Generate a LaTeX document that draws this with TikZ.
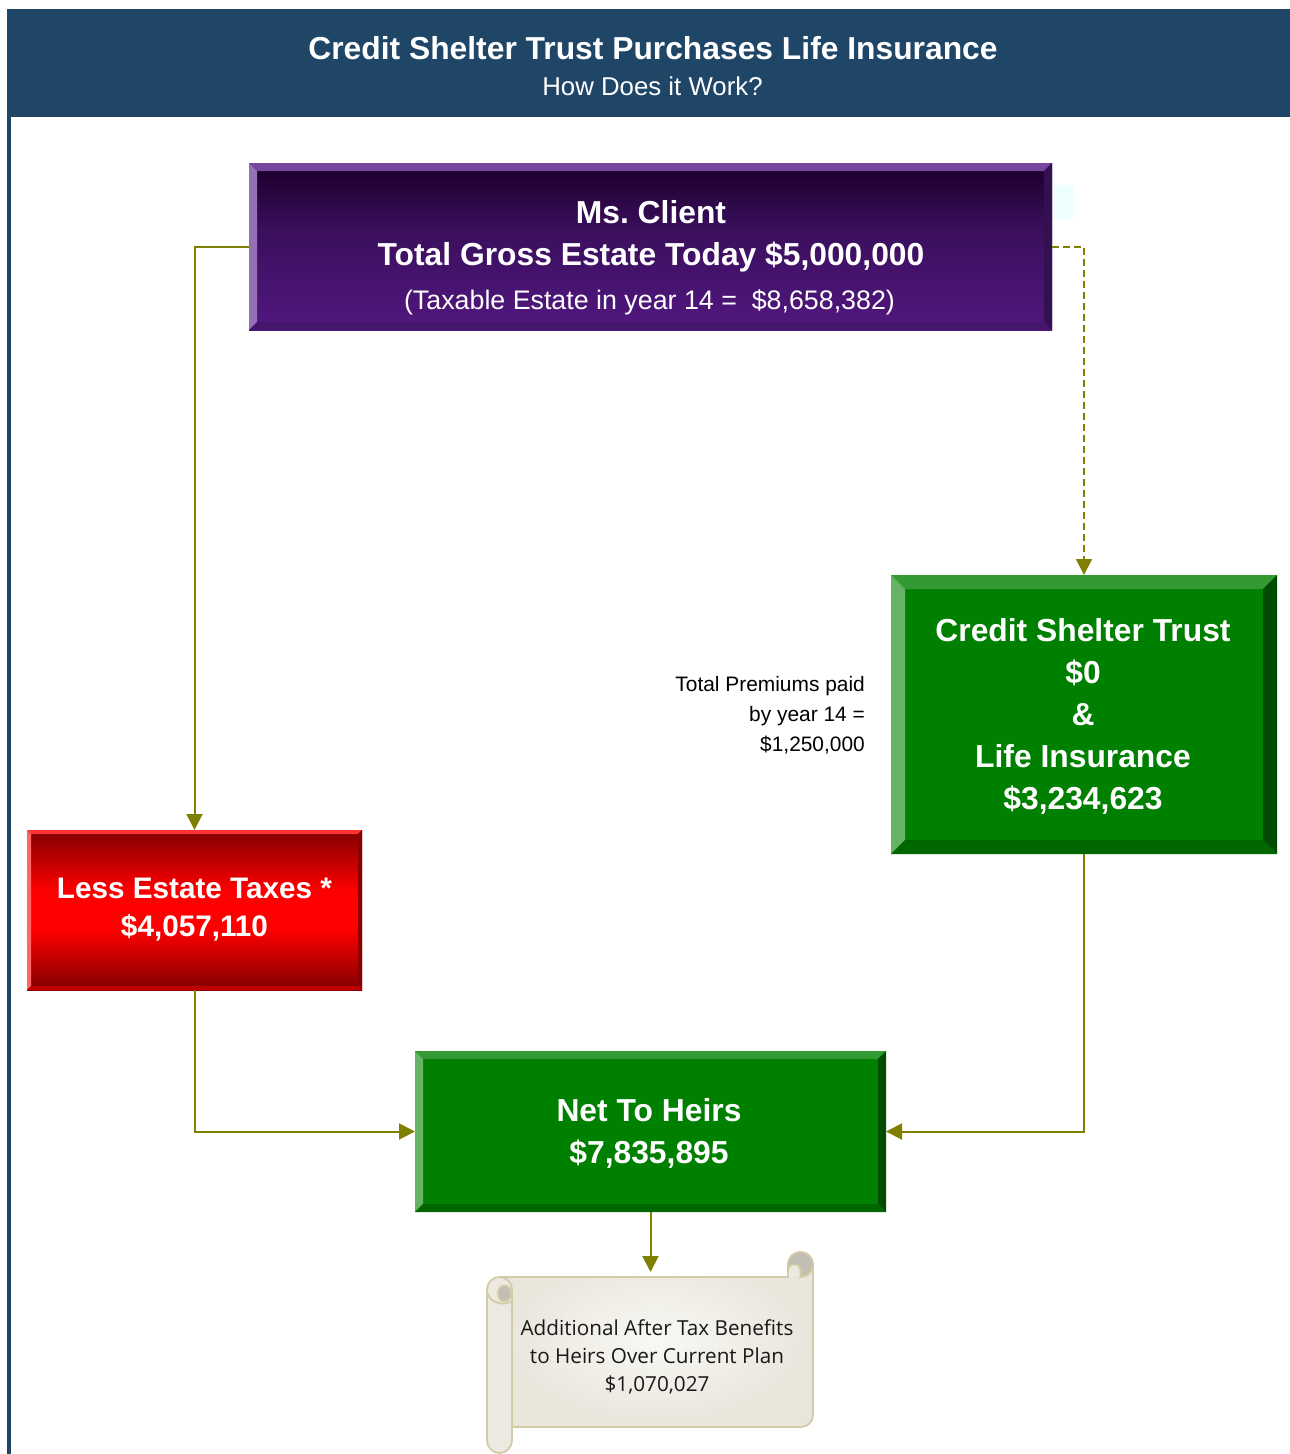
\documentclass[tikz,border=0pt]{standalone}
\usepackage{fontspec}
\setmainfont{Liberation Sans}
\newfontfamily\scrollfont{Open Sans}
\usetikzlibrary{arrows.meta,calc}
\frenchspacing
\definecolor{hdr}{HTML}{1F4567}
\definecolor{olivec}{HTML}{808000}
\definecolor{pTop}{HTML}{77479D}
\definecolor{pLeft}{HTML}{9570B5}
\definecolor{pRight}{HTML}{33104F}
\definecolor{pBot}{HTML}{45166B}
\definecolor{pShadeTop}{HTML}{1F0031}
\definecolor{pShadeMid}{HTML}{3A0F5C}
\definecolor{pShadeBot}{HTML}{521780}
\definecolor{gTop}{HTML}{339933}
\definecolor{gLeft}{HTML}{66B266}
\definecolor{gRight}{HTML}{004C00}
\definecolor{gBot}{HTML}{006600}
\definecolor{gFill}{HTML}{008000}
\definecolor{rTop}{HTML}{FF3333}
\definecolor{rLeft}{HTML}{FF6666}
\definecolor{rRight}{HTML}{8B0000}
\definecolor{rBot}{HTML}{C00000}
\definecolor{rDark}{HTML}{800000}
\definecolor{rBright}{HTML}{FF0000}
\definecolor{scrollEdge}{HTML}{D3CBA8}
\definecolor{scrollIn}{HTML}{F9F8F4}
\definecolor{scrollOut}{HTML}{E8E5DB}
\definecolor{scrollRoll}{HTML}{ECE9E0}
\definecolor{curlGray}{HTML}{C2BEB6}
\definecolor{paleCyan}{HTML}{EEFFFF}
\pgfdeclareverticalshading{redband}{100bp}{color(0bp)=(rDark); color(25bp)=(rDark); color(44bp)=(rBright); color(56bp)=(rBright); color(75bp)=(rDark); color(100bp)=(rDark)}
\pgfdeclareverticalshading{purpleband}{100bp}{color(0bp)=(pShadeBot); color(25bp)=(pShadeBot); color(55bp)=(pShadeMid); color(72bp)=(pShadeTop); color(100bp)=(pShadeTop)}
\newcommand{\bigbold}{\fontsize{31.8}{42}\selectfont\bfseries}
\begin{document}
\begin{tikzpicture}[x=1pt,y=-1pt,
  box/.style={rectangle, inner sep=0pt, outer sep=0pt},
  bevel/.style n args={5}{path picture={
    \fill[#2] (path picture bounding box.north west) -- (path picture bounding box.north east)
      -- ([xshift=-#1pt,yshift=-#1pt]path picture bounding box.north east)
      -- ([xshift=#1pt,yshift=-#1pt]path picture bounding box.north west) -- cycle;
    \fill[#3] (path picture bounding box.north west)
      -- ([xshift=#1pt,yshift=-#1pt]path picture bounding box.north west)
      -- ([xshift=#1pt,yshift=#1pt]path picture bounding box.south west)
      -- (path picture bounding box.south west) -- cycle;
    \fill[#4] (path picture bounding box.north east)
      -- ([xshift=-#1pt,yshift=-#1pt]path picture bounding box.north east)
      -- ([xshift=-#1pt,yshift=#1pt]path picture bounding box.south east)
      -- (path picture bounding box.south east) -- cycle;
    \fill[#5] (path picture bounding box.south west)
      -- ([xshift=#1pt,yshift=#1pt]path picture bounding box.south west)
      -- ([xshift=-#1pt,yshift=#1pt]path picture bounding box.south east)
      -- (path picture bounding box.south east) -- cycle;
  }},
  boxtext/.style={text=white, align=center, font=\bigbold},
  conn/.style={draw=olivec, line width=2pt, -{Triangle[length=16pt,width=16pt]}},
  dashconn/.style={conn, dash pattern=on 7pt off 4pt},
  scrollline/.style={draw=scrollEdge, line width=1.8pt, line join=round}
]
\useasboundingbox (0,0) rectangle (1290,1454);
\fill[white] (0,0) rectangle (1290,1454);

% header and left border
\fill[hdr] (7,9) rectangle (1290,117);
\fill[hdr] (7,117) rectangle (11,1454);
\node[text=white, font=\fontsize{31.8}{38}\selectfont\bfseries] (title) at (653,48) {Credit Shelter Trust Purchases Life Insurance};
\node[text=white, font=\fontsize{25.8}{30}\selectfont] (subtitle) at (652.5,86) {How Does it Work?};

% pale artifact
\fill[paleCyan] (1053,185) rectangle (1073,219);

% Ms. Client box
\node[box, minimum width=803pt, minimum height=167pt, shading=purpleband,
  bevel={8}{pTop}{pLeft}{pRight}{pBot}] (client) at (650.5,246.5) {};
\node[boxtext] (clienttext) at (651,236) {Ms. Client\\Total Gross Estate Today \$5,000,000};
\node[text=white, font=\fontsize{26.8}{32}\selectfont] (taxable) at (649.5,302.5) {(Taxable Estate in year 14 = \ \$8,658,382)};

% Credit Shelter Trust box
\node[box, minimum width=386pt, minimum height=279pt, fill=gFill,
  bevel={14}{gTop}{gLeft}{gRight}{gBot}] (cst) at (1084,714.5) {};
\node[boxtext] (csttext) at (1083,716) {Credit Shelter Trust\\\$0\\\&\\Life Insurance\\\$3,234,623};

% premiums text
\node[align=right, anchor=east, font=\fontsize{20.9}{30}\selectfont, text=black, inner sep=0pt] (premiums) at (865,715.5) {Total Premiums paid\\by year 14 =\\\$1,250,000};

% Less Estate Taxes box
\node[box, minimum width=335pt, minimum height=160pt, shading=redband,
  bevel={4}{rTop}{rLeft}{rRight}{rBot}] (red) at (194.5,910) {};
\node[boxtext, font=\fontsize{29.7}{38}\selectfont\bfseries] (redtext) at (194.5,910) {Less Estate Taxes *\\\$4,057,110};

% Net To Heirs box
\node[box, minimum width=471pt, minimum height=161pt, fill=gFill,
  bevel={8}{gTop}{gLeft}{gRight}{gBot}] (net) at (650.5,1131.5) {};
\node[boxtext] (nettext) at (649,1133.5) {Net To Heirs\\\$7,835,895};

% scroll
\shade[inner color=scrollIn, outer color=scrollOut] (499,1277) -- (788,1277) -- (788,1264.5)
  arc[start angle=180,end angle=360,radius=12.5] -- (813,1415)
  arc[start angle=0,end angle=90,radius=12] -- (499,1427) -- cycle;
\draw[scrollline] (499,1277) -- (788,1277) -- (788,1264.5)
  arc[start angle=180,end angle=360,radius=12.5] -- (813,1415)
  arc[start angle=0,end angle=90,radius=12] -- (499,1427);
\filldraw[scrollline, fill=curlGray] (800.5,1264.5) circle[radius=12.5];
\filldraw[scrollline, fill=scrollRoll] (788,1277) -- (788,1270.5)
  arc[start angle=180,end angle=360,radius=6.25] -- (800.5,1277);
\filldraw[scrollline, fill=scrollRoll] (487,1289.5) arc[start angle=180,end angle=360,radius=12.5]
  -- (512,1440.5) arc[start angle=0,end angle=180,radius=12.5] -- cycle;
\filldraw[scrollline, fill=curlGray] (504.5,1293.5) ellipse[x radius=6.5, y radius=8];
\draw[scrollline] (487,1292) .. controls (490,1304) and (505,1306) .. (512,1301);
\coordinate (scrolltop) at (650.5,1272);
\node[align=center, font=\scrollfont\fontsize{20.7}{28}\selectfont, text=black!90] (benefits) at (657,1356.5)
  {Additional After Tax Benefits\\to Heirs Over Current Plan\\\$1,070,027};

% connectors
\draw[conn] (client.west) -| (red.north);
\draw[dashconn] (client.east) -| (cst.north);
\draw[conn] (red.south) |- (net.west);
\draw[conn] (cst.south) |- (net.east);
\draw[conn] (net.south) -- (net.south |- scrolltop);
\end{tikzpicture}
\end{document}
